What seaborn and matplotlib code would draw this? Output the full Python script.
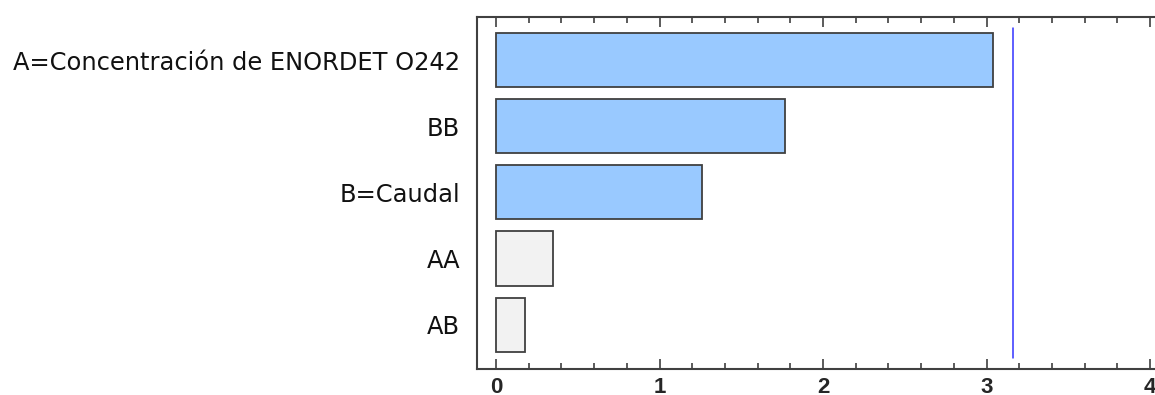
import matplotlib
matplotlib.use("Agg")
import matplotlib.pyplot as plt
from matplotlib.ticker import MultipleLocator
import seaborn as sns
import pandas as pd

# Standardized effects (Pareto chart)
effects = ["A=Concentración de ENORDET O242", "BB", "B=Caudal", "AA", "AB"]
values = [3.04, 1.77, 1.26, 0.35, 0.18]
positive = [True, True, True, False, False]
critical_value = 3.16

sns.set_theme(style="white")
plt.rcParams["font.family"] = ["DejaVu Sans"]

df = pd.DataFrame({"effect": effects, "value": values})
colors = ["#99c9ff" if p else "#f2f2f2" for p in positive]

fig = plt.figure(figsize=(11.55, 3.95), dpi=100)
ax = fig.add_axes([0.413, 0.0658, 0.587, 0.891])

sns.barplot(data=df, y="effect", x="value", hue="effect", palette=colors,
            orient="h", width=0.82, edgecolor="#404040", linewidth=1.3,
            legend=False, ax=ax, saturation=1)

ax.axvline(critical_value, ymin=0.031, ymax=0.969, color="#3333ff", lw=1.1)

ax.set_xlim(-0.116, 4.03)
ax.set_ylim(4.67, -0.65)
ax.set_xlabel("")
ax.set_ylabel("")

ax.xaxis.set_major_locator(MultipleLocator(1))
ax.xaxis.set_minor_locator(MultipleLocator(0.2))
ax.tick_params(axis="x", which="both", direction="in", top=True, bottom=True,
               color="#404040", width=1.2)
ax.tick_params(axis="x", which="major", length=7, labelsize=16, pad=6)
ax.tick_params(axis="x", which="minor", length=4)
for lab in ax.get_xticklabels():
    lab.set_fontweight("bold")
    lab.set_fontfamily("Liberation Sans")
    lab.set_color("#262626")

ax.tick_params(axis="y", which="both", left=False, labelsize=17.4, pad=6)
for lab in ax.get_yticklabels():
    lab.set_color("#111111")

for side in ["left", "top", "bottom"]:
    ax.spines[side].set_visible(True)
    ax.spines[side].set_color("#404040")
    ax.spines[side].set_linewidth(1.5)
ax.spines["right"].set_visible(False)

fig.savefig("out.png", dpi=100)
